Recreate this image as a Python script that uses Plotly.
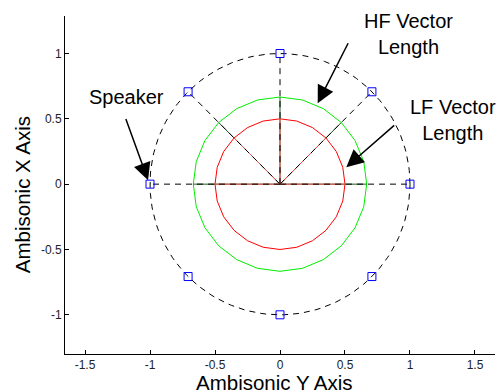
import numpy as np
import plotly.graph_objects as go

# ---- data ----
speaker_angles_deg = [90, 45, 0, -45, -90, -135, 180, 135]
speaker_radius = 1.0
ray_angles_deg = [0, 45, 90, 135, 180]          # directions with drawn rays
circle_angles_deg = list(range(0, 361, 15))       # sampling of the vector-length curves
hf_length = [0.667] * len(circle_angles_deg)      # HF vector length per angle
lf_length = [0.50] * len(circle_angles_deg)       # LF vector length per angle
ring_angles_deg = list(range(0, 361, 2))
x_ticks = [-1.5, -1, -0.5, 0, 0.5, 1, 1.5]
y_ticks = [-1, -0.5, 0, 0.5, 1]

def polar(r, a_deg):
    a = np.radians(np.asarray(a_deg, dtype=float))
    r = np.asarray(r, dtype=float)
    return r * np.cos(a), r * np.sin(a)

fig = go.Figure()

# speaker ring (dashed)
rx, ry = polar([speaker_radius] * len(ring_angles_deg), ring_angles_deg)
fig.add_trace(go.Scatter(x=rx, y=ry, mode="lines",
                         line=dict(color="black", width=1, dash="6px,5px"),
                         hoverinfo="skip"))

# HF / LF vector length curves
gx, gy = polar(hf_length, circle_angles_deg)
fig.add_trace(go.Scatter(x=gx, y=gy, mode="lines", line=dict(color="#00ee00", width=1)))
lx, ly = polar(lf_length, circle_angles_deg)
fig.add_trace(go.Scatter(x=lx, y=ly, mode="lines", line=dict(color="#ff0000", width=1)))

# rays: green to HF length, red to LF length, black dashed to speaker
for a in ray_angles_deg:
    hx, hy = polar([0, hf_length[0]], [a, a])
    fig.add_trace(go.Scatter(x=hx, y=hy, mode="lines", line=dict(color="#1a5a1a", width=1)))
    qx, qy = polar([0, lf_length[0]], [a, a])
    fig.add_trace(go.Scatter(x=qx, y=qy, mode="lines", line=dict(color="#ff5050", width=1)))
    sx, sy = polar([0, speaker_radius], [a, a])
    fig.add_trace(go.Scatter(x=sx, y=sy, mode="lines",
                             line=dict(color="black", width=1, dash="6px,5px")))

# speakers
spx, spy = polar([speaker_radius] * len(speaker_angles_deg), speaker_angles_deg)
fig.add_trace(go.Scatter(x=np.round(spx, 4), y=np.round(spy, 4), mode="markers",
                         marker=dict(symbol="square-open", size=8,
                                     color="#0000ff", line=dict(width=1, color="#0000ff"))))

FONT = "Liberation Sans, Arial, sans-serif"
font_ann = dict(family=FONT, size=20, color="black")

# annotation texts
texts = [("Speaker", -1.18, 0.67), ("HF Vector<br>Length", 0.99, 1.15), ("LF Vector<br>Length", 1.33, 0.49)]
for t, x, y in texts:
    fig.add_annotation(x=x, y=y, text=t, showarrow=False, font=font_ann, align="center")

# arrows (tip, tail)
arrows = [((-1.015, 0.03), (-1.19, 0.51)),
          ((0.29, 0.62), (0.53, 1.09)),
          ((0.51, 0.13), (0.89, 0.46))]
for (tx, ty), (ax_, ay_) in arrows:
    fig.add_annotation(x=tx, y=ty, ax=ax_, ay=ay_, xref="x", yref="y", axref="x", ayref="y",
                       text="", showarrow=True, arrowhead=2, arrowsize=2.3,
                       arrowwidth=1.5, arrowcolor="black")

# axis titles
fig.add_annotation(x=0.486, y=-0.083, xref="paper", yref="paper", text="Ambisonic Y Axis",
                   showarrow=False, font=dict(family=FONT, size=20.5, color="black"),
                   xanchor="center", yanchor="middle")
fig.add_annotation(x=-0.1, y=0.47, xref="paper", yref="paper", text="Ambisonic X Axis",
                   showarrow=False, textangle=-90, font=dict(family=FONT, size=20.5, color="black"),
                   xanchor="center", yanchor="middle")

axis_common = dict(showgrid=False, zeroline=False, showline=True, linecolor="black",
                   linewidth=1, ticks="inside", ticklen=4, tickcolor="black", automargin=False,
                   tickfont=dict(family=FONT, size=12, color="#222"))

fig.update_layout(
    width=501, height=392,
    margin=dict(l=65, r=6, t=16, b=38),
    paper_bgcolor="white", plot_bgcolor="white",
    showlegend=False,
    xaxis=dict(range=[-1.654, 1.654], tickvals=x_ticks, ticktext=[str(v) for v in x_ticks],
               **axis_common),
    yaxis=dict(range=[-1.3, 1.287], tickvals=y_ticks, ticktext=[str(v) for v in y_ticks],
               **axis_common),
)

fig.write_html("out.html", config={"displayModeBar": False},
               post_script="document.body.style.margin='0px';")
